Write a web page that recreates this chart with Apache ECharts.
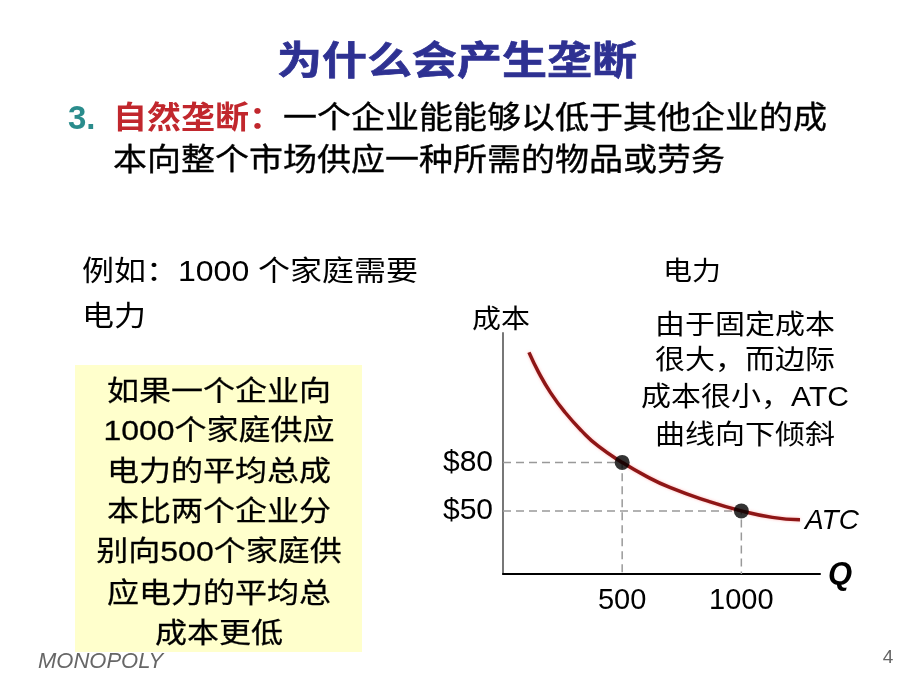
<!DOCTYPE html>
<html>
<head>
<meta charset="utf-8">
<script src="https://cdn.jsdelivr.net/npm/echarts@6/dist/echarts.min.js"></script>
<style>
html,body{margin:0;padding:0;background:#fff;}
#chart{width:920px;height:690px;}
</style>
</head>
<body>
<div id="chart"></div>
<script>
// ---- data ----
var atcQ = [109, 150, 200, 260, 330, 400, 500, 600, 700, 850, 1000, 1130, 1246];
var atcCost = [148, 135.5, 123, 111, 99.5, 90, 80, 71.5, 64.5, 56.5, 50, 46, 44.5];
var pointQ = [500, 1000];
var pointCost = [80, 50];
var xTicks = [500, 1000];
var yTicks = [50, 80];
var boxLines = ['如果一个企业向', '1000个家庭供应', '电力的平均总成', '本比两个企业分', '别向500个家庭供', '应电力的平均总', '成本更低'];
var noteLines = ['由于固定成本', '很大，而边际', '成本很小，ATC', '曲线向下倾斜'];

var CJK = '"Liberation Sans", "Noto Sans CJK SC", sans-serif';

function txt(x, y, text, size, opts) {
  opts = opts || {};
  return {
    type: 'text', x: x, y: y, scaleY: opts.sy || 1, z: 10,
    style: {
      text: text,
      font: (opts.weight || 'normal') + ' ' + (opts.italic ? 'italic ' : '') + size + 'px ' + CJK,
      fill: opts.color || '#000',
      stroke: opts.stroke || null, lineWidth: opts.lw || 0,
      align: opts.align || 'left', textAlign: opts.align || 'left',
      verticalAlign: 'middle', textVerticalAlign: 'middle'
    }
  };
}

function guide(q, c) { return [[0, c], [q, c], [q, 11]]; }

var graphics = [
  txt(457, 63, '为什么会产生垄断', 45, {weight: 'bold', color: '#2E3192', align: 'center', sy: 0.85, stroke: '#2E3192', lw: 0.8}),
  txt(68, 120, '3.', 33, {weight: 'bold', color: '#2A8C8C'}),
  txt(113, 120, '自然垄断：', 34, {weight: 'bold', color: '#C1272D', sy: 0.9}),
  txt(283, 120, '一个企业能能够以低于其他企业的成', 34, {sy: 0.9, stroke: '#000', lw: 0.4}),
  txt(113, 162, '本向整个市场供应一种所需的物品或劳务', 34, {sy: 0.9, stroke: '#000', lw: 0.4}),
  txt(82, 273, '例如：1000 个家庭需要', 32, {sy: 0.9}),
  txt(82, 318, '电力', 32, {sy: 0.9}),
  txt(663, 273, '电力', 29, {sy: 0.92}),
  txt(501, 321, '成本', 29, {align: 'center', sy: 0.92}),
  {type: 'rect', shape: {x: 75, y: 365, width: 287, height: 287}, style: {fill: '#FFFFCC'}, z: 1},
  txt(38, 662, 'MONOPOLY', 22, {italic: true, color: '#666'}),
  txt(888, 658, '4', 19, {color: '#666', align: 'center'}),
  txt(828, 575, 'Q', 31, {weight: 'bold', italic: true}),
  txt(805, 521, 'ATC', 28, {italic: true})
];
var boxY = [393, 432, 473, 513, 553, 595, 635];
boxLines.forEach(function (s, i) { graphics.push(txt(219, boxY[i], s, 32, {align: 'center', sy: 0.88, stroke: '#000', lw: 0.3})); });
var noteY = [327, 362, 399, 437];
noteLines.forEach(function (s, i) { graphics.push(txt(745, noteY[i], s, 30, {align: 'center', sy: 0.9})); });

var chart = echarts.init(document.getElementById('chart'), null, {renderer: 'canvas'});
chart.setOption({
  animation: false,
  backgroundColor: '#fff',
  grid: {left: 503, top: 333, right: 100, bottom: 116, containLabel: false},
  xAxis: {
    type: 'value', min: 0, max: 1330,
    axisLine: {show: true, lineStyle: {color: '#000', width: 2}},
    axisTick: {show: false},
    splitLine: {show: false},
    axisLabel: {
      customValues: xTicks, margin: 12,
      fontSize: 29, color: '#000', fontFamily: CJK,
      formatter: function (v) { return String(v); }
    }
  },
  yAxis: {
    type: 'value', min: 11, max: 160,
    axisLine: {show: true, lineStyle: {color: '#777', width: 2}},
    axisTick: {show: false},
    splitLine: {show: false},
    axisLabel: {
      customValues: yTicks, margin: 10,
      fontSize: 30, color: '#000', fontFamily: CJK,
      formatter: function (v) { return '$' + v; }
    }
  },
  graphic: graphics,
  series: [
    {type: 'line', data: guide(pointQ[0], pointCost[0]), symbol: 'none', silent: true,
      lineStyle: {color: '#999', width: 1.5, type: [8, 5]}},
    {type: 'line', data: guide(pointQ[1], pointCost[1]), symbol: 'none', silent: true,
      lineStyle: {color: '#999', width: 1.5, type: [8, 5]}},
    {type: 'line', data: atcQ.map(function (q, i) { return [q, atcCost[i]]; }),
      smooth: 0.5, symbol: 'none',
      lineStyle: {color: '#8E1616', width: 3.5, shadowColor: 'rgba(255,120,120,0.55)', shadowBlur: 3}},
    {type: 'scatter', data: pointQ.map(function (q, i) { return [q, pointCost[i]]; }),
      symbolSize: 15, itemStyle: {color: '#000'}, z: 5}
  ]
});
</script>
</body>
</html>
